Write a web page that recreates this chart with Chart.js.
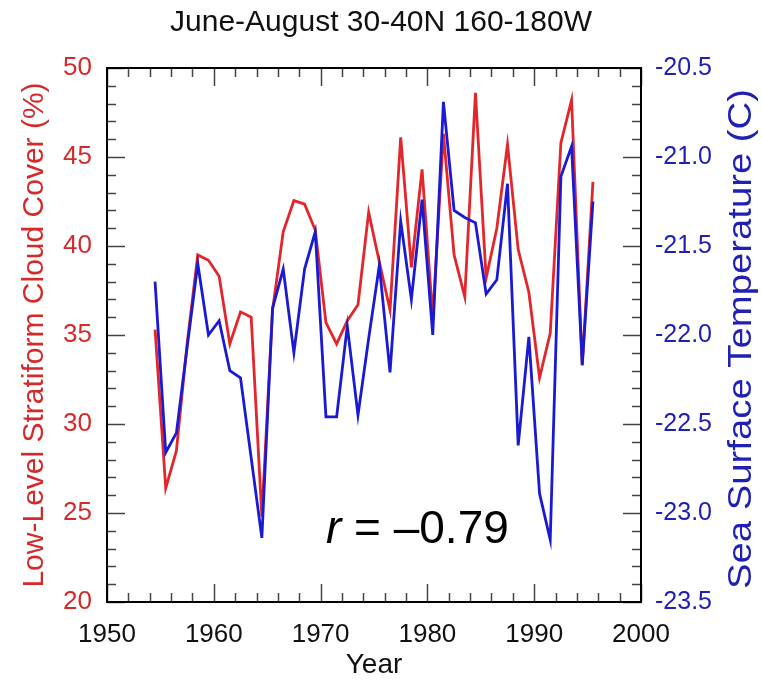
<!DOCTYPE html>
<html><head><meta charset="utf-8">
<script src="https://cdn.jsdelivr.net/npm/chart.js@4.4.1/dist/chart.umd.min.js"></script>
<style>html,body{margin:0;padding:0;background:#fff}#wrap{width:762px;height:685px}</style>
</head><body><div id="wrap"><canvas id="c" width="762" height="685"></canvas></div>
<script>
const titleText = 'June-August 30-40N 160-180W';
const xTitle = 'Year';
const leftTitle = 'Low-Level Stratiform Cloud Cover (%)';
const rightTitle = 'Sea Surface Temperature (C)';
const rItalic = 'r';
const rRest = ' = \u20130.79';
const MIDYEAR = 0.5;
const years = [1954,1955,1956,1957,1958,1959,1960,1961,1962,1963,1964,1965,1966,1967,1968,1969,1970,1971,1972,1973,1974,1975,1976,1977,1978,1979,1980,1981,1982,1983,1984,1985,1986,1987,1988,1989,1990,1991,1992,1993,1994,1995];
const cloudCover = [35.3,26.4,28.5,34.5,39.5,39.2,38.3,34.5,36.3,36.0,24.8,36.4,40.8,42.55,42.35,40.9,35.7,34.5,35.8,36.7,41.9,39.1,36.4,46.1,38.8,44.3,36.0,46.3,39.5,37.15,48.6,38.2,41.0,45.7,39.8,37.4,32.6,35.1,45.8,48.2,33.3,43.6];
const sst = [-21.70,-22.66,-22.55,-22.07,-21.60,-22.00,-21.92,-22.20,-22.24,-22.69,-23.14,-21.85,-21.63,-22.10,-21.63,-21.42,-22.46,-22.46,-21.95,-22.45,-22.02,-21.61,-22.21,-21.36,-21.80,-21.24,-22.00,-20.69,-21.30,-21.34,-21.37,-21.77,-21.69,-21.15,-22.62,-22.01,-22.89,-23.15,-21.11,-20.94,-22.17,-21.25];
const xTicks = [1950,1960,1970,1980,1990,2000];
const cloudTicks = [20,25,30,35,40,45,50];
const sstTicks = [-23.5,-23.0,-22.5,-22.0,-21.5,-21.0,-20.5];

const RED = '#e3262b', BLUE = '#1a1ad2';
const RED_TXT = '#d42a2a', BLUE_TXT = '#2020b4';
const FONT = "'Liberation Sans', Arial, Helvetica, sans-serif";

const framePlugin = {
  id: 'frame',
  afterDatasetsDraw(chart) {
    const {ctx, chartArea: a, scales} = chart;
    const x = scales.x, yL = scales.yL;
    ctx.save();
    ctx.strokeStyle = '#444';
    ctx.lineWidth = 1.5;
    ctx.beginPath();
    for (let v = xTicks[0]; v <= xTicks[xTicks.length-1]; v += 2) {
      const p = Math.round(x.getPixelForValue(v)) + 0.5;
      const len = (v % 10 === 0) ? 18 : 9;
      ctx.moveTo(p, a.bottom); ctx.lineTo(p, a.bottom - len);
      ctx.moveTo(p, a.top); ctx.lineTo(p, a.top + len);
    }
    for (let v = cloudTicks[0]; v <= cloudTicks[cloudTicks.length-1]; v += 1) {
      const p = Math.round(yL.getPixelForValue(v)) + 0.5;
      const len = (v % 5 === 0) ? 18 : 9;
      ctx.moveTo(a.left, p); ctx.lineTo(a.left + len, p);
      ctx.moveTo(a.right, p); ctx.lineTo(a.right - len, p);
    }
    ctx.stroke();
    ctx.strokeStyle = '#000';
    ctx.lineWidth = 2;
    ctx.strokeRect(a.left, a.top, a.right - a.left, a.bottom - a.top);
    // correlation label
    const tx = x.getPixelForValue(1970.5), ty = yL.getPixelForValue(23.3);
    ctx.fillStyle = '#000';
    ctx.textBaseline = 'alphabetic';
    ctx.textAlign = 'left';
    ctx.font = 'italic 46px ' + FONT;
    ctx.fillText(rItalic, tx, ty);
    const w = ctx.measureText(rItalic).width;
    ctx.font = '46px ' + FONT;
    ctx.fillText(rRest, tx + w, ty);
    // right axis title, reading bottom to top
    ctx.translate(742, (a.top + a.bottom) / 2 + 4);
    ctx.rotate(-Math.PI / 2);
    ctx.scale(1.16, 1);
    ctx.textAlign = 'center';
    ctx.textBaseline = 'middle';
    ctx.fillStyle = BLUE_TXT;
    ctx.font = '33px ' + FONT;
    ctx.fillText(rightTitle, 0, 0);
    ctx.restore();
  }
};

new Chart(document.getElementById('c'), {
  type: 'line',
  data: {
    datasets: [
      { label: 'SST', data: years.map((y, i) => ({x: y + MIDYEAR, y: sst[i]})), yAxisID: 'yR',
        borderColor: BLUE, borderWidth: 2.8, pointRadius: 0, tension: 0, order: 0 },
      { label: 'Cloud', data: years.map((y, i) => ({x: y + MIDYEAR, y: cloudCover[i]})), yAxisID: 'yL',
        borderColor: RED, borderWidth: 2.8, pointRadius: 0, tension: 0, order: 1 }
    ]
  },
  options: {
    responsive: false,
    animation: false,
    devicePixelRatio: 1,
    layout: { padding: 0 },
    plugins: {
      legend: { display: false },
      tooltip: { enabled: false },
      title: { display: true, text: titleText, color: '#111', font: { family: FONT, size: 30, weight: 'normal' },
               padding: { top: 5, bottom: 27 } }
    },
    scales: {
      x: {
        type: 'linear', position: 'bottom', min: 1950, max: 2000,
        afterBuildTicks: s => { s.ticks = xTicks.map(v => ({value: v})); },
        afterFit: s => { s.height = 83; },
        grid: { display: false, drawTicks: false }, border: { display: false },
        ticks: { color: '#111', font: { family: FONT, size: 26 }, padding: 17, maxRotation: 0, callback: v => String(v) },
        title: { display: true, text: xTitle, color: '#111', font: { family: FONT, size: 28 }, padding: { top: 0, bottom: 3 } }
      },
      yL: {
        type: 'linear', position: 'left', min: 20, max: 50,
        afterBuildTicks: s => { s.ticks = cloudTicks.map(v => ({value: v})); },
        afterFit: s => { s.width = 107; },
        grid: { display: false, drawTicks: false }, border: { display: false },
        ticks: { color: RED_TXT, font: { family: FONT, size: 26 }, padding: 15, callback: v => String(v) },
        title: { display: true, text: leftTitle, color: RED_TXT, font: { family: FONT, size: 30 }, padding: { top: 17, bottom: 0 } }
      },
      yR: {
        type: 'linear', position: 'right', min: -23.5, max: -20.5,
        afterBuildTicks: s => { s.ticks = sstTicks.map(v => ({value: v})); },
        afterFit: s => { s.width = 121; },
        grid: { display: false, drawTicks: false }, border: { display: false },
        ticks: { color: BLUE_TXT, font: { family: FONT, size: 25 }, padding: 14, callback: v => Number(v).toFixed(1) },
        title: { display: false }
      }
    }
  },
  plugins: [framePlugin]
});
</script>
</body></html>
